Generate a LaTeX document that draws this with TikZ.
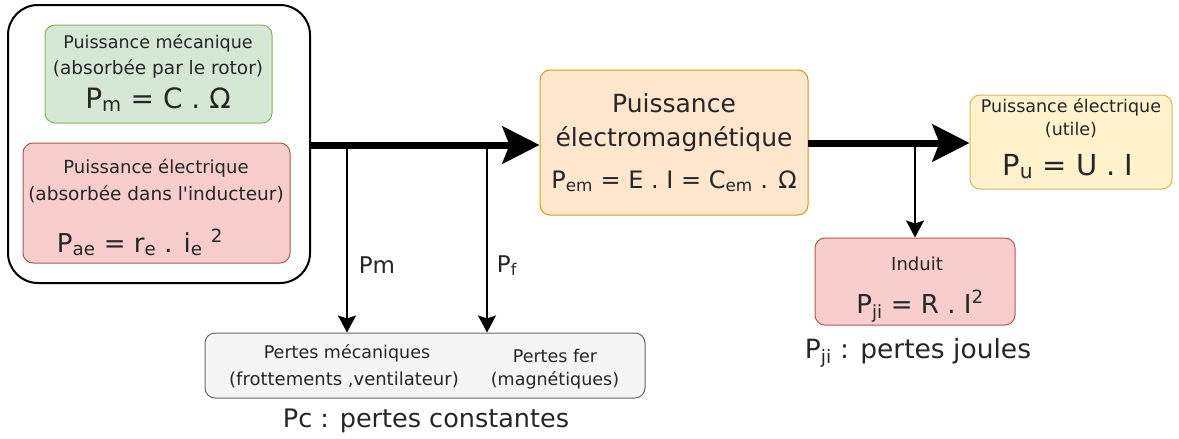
\documentclass[tikz,border=0pt]{standalone}
\usepackage{fontspec}
\setmainfont{DejaVu Sans}
\usetikzlibrary{arrows.meta}
\definecolor{gfill}{HTML}{D5E8D4}\definecolor{gdraw}{HTML}{82B366}
\definecolor{rfill}{HTML}{F8CECC}\definecolor{rdraw}{HTML}{B85450}
\definecolor{ofill}{HTML}{FFE6CC}\definecolor{odraw}{HTML}{D79B00}
\definecolor{yfill}{HTML}{FFF2CC}\definecolor{ydraw}{HTML}{D6B656}
\definecolor{sfill}{HTML}{F5F5F5}\definecolor{sdraw}{HTML}{666666}
\newcommand\fsz[1]{\fontsize{#1}{#1}\selectfont}
\begin{document}
\begin{tikzpicture}[x=1pt,y=-1pt,
  box/.style={draw, rounded corners=10pt, line width=1pt, inner sep=0pt},
  txt/.style={inner sep=0pt, anchor=base, text=black!85},
  thick arrow/.style={line width=7pt, -{Stealth[length=37pt,width=37pt,inset=7pt]}},
  thin arrow/.style={line width=2pt, -{Stealth[length=17pt,width=18pt,inset=3pt]}}]
\useasboundingbox (0,0) rectangle (1179,439);
% boxes
\node[draw, line width=2pt, rounded corners=30pt, inner sep=0pt, minimum width=302pt, minimum height=278pt] (outer) at (159,144) {};
\node[box, fill=gfill, draw=gdraw, minimum width=227pt, minimum height=98pt] (green) at (158.5,74) {};
\node[box, fill=rfill, draw=rdraw, minimum width=267pt, minimum height=120pt] (red) at (156.5,203) {};
\node[box, fill=ofill, draw=odraw, minimum width=268pt, minimum height=145pt] (orange) at (674,142.5) {};
\node[box, fill=yfill, draw=ydraw, minimum width=202pt, minimum height=94pt] (yellow) at (1071,142) {};
\node[box, fill=rfill, draw=rdraw, minimum width=200pt, minimum height=87pt] (induit) at (915,281.5) {};
\node[box, fill=sfill, draw=sdraw, minimum width=440pt, minimum height=65pt] (grey) at (425,365.5) {};
% texts
\node[txt] (g1) at (158,48) {\fsz{17.5}Puissance mécanique};
\node[txt] (g2) at (158,74) {\fsz{18.5}(absorbée par le rotor)};
\node[txt] (g3) at (158,108) {\fsz{28}P\textsubscript{m} = C . Ω};
\node[txt] (r1) at (156,173) {\fsz{18}Puissance électrique};
\node[txt] (r2) at (156,200) {\fsz{18.5}(absorbée dans l\textquotesingle inducteur)};
\node[txt] (r3) at (140,252) {\fsz{26}P\textsubscript{ae} = r\textsubscript{e} . i\textsubscript{e} \textsuperscript{2}};
\node[txt] (o1) at (674,112) {\fsz{25}Puissance};
\node[txt] (o2) at (674,146) {\fsz{25}électromagnétique};
\node[txt] (o3) at (674,188) {\fsz{24}P\textsubscript{em} = E . I = C\textsubscript{em} . Ω};
\node[txt] (y1) at (1071,112) {\fsz{17.5}Puissance électrique};
\node[txt] (y2) at (1071,135) {\fsz{17.5}(utile)};
\node[txt] (y3) at (1068,175) {\fsz{29}P\textsubscript{u} = U . I};
\node[txt] (i1) at (917,270) {\fsz{18}Induit};
\node[txt] (i2) at (920,313) {\fsz{26}P\textsubscript{ji} = R . I\textsuperscript{2}};
\node[txt] (s1) at (347,358) {\fsz{17.5}Pertes mécaniques};
\node[txt] (s2) at (344,385) {\fsz{18}(frottements ,ventilateur)};
\node[txt] (s3) at (555,362) {\fsz{17.5}Pertes fer};
\node[txt] (s4) at (555,385) {\fsz{17.5}(magnétiques)};
\node[txt] (pc) at (426,427) {\fsz{25.5}Pc : pertes constantes};
\node[txt] (pj) at (918,358) {\fsz{26.5}P\textsubscript{ji} : pertes joules};
\node[txt] (lpm) at (377,273) {\fsz{23}Pm};
\node[txt] (lpf) at (507,272) {\fsz{23}P\textsubscript{f}};
% connectors
\coordinate (a1) at (310,145);
\coordinate (b1) at (347,145);
\coordinate (b2) at (487,145);
\coordinate (a2) at (808,143);
\coordinate (b3) at (915,143);
\draw[thick arrow] (a1) -- (orange.west|-a1);
\draw[thick arrow] (a2) -- (yellow.west|-a2);
\draw[thin arrow] (b1) -- (b1|-grey.north);
\draw[thin arrow] (b2) -- (b2|-grey.north);
\draw[thin arrow] (b3) -- (induit.north);
\end{tikzpicture}
\end{document}
